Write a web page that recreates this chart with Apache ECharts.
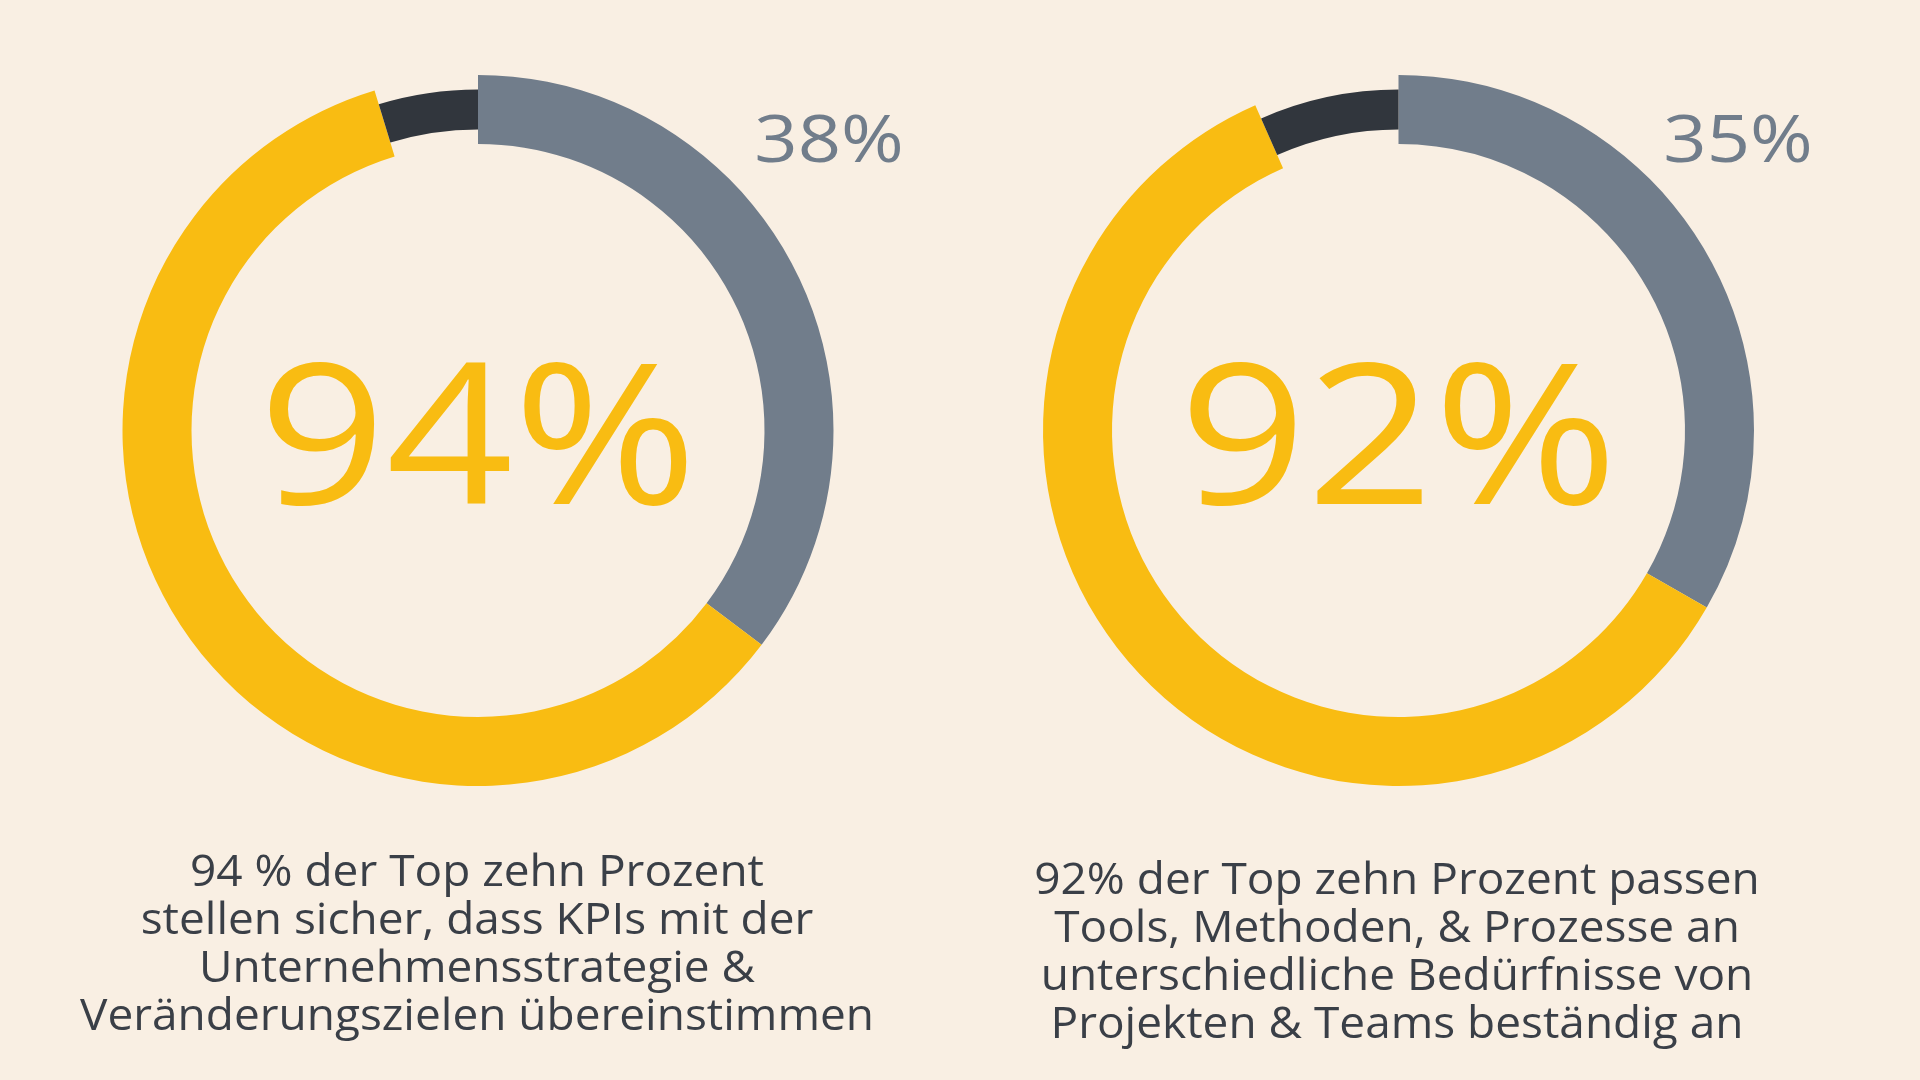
<!DOCTYPE html>
<html>
<head>
<meta charset="utf-8">
<script src="https://cdn.jsdelivr.net/npm/echarts@6/dist/echarts.min.js"></script>
<style>
  html, body { margin: 0; padding: 0; background: #f9efe3; }
  #chart { width: 1920px; height: 1080px; }
</style>
</head>
<body>
<div id="chart"></div>
<script>
// Anteile der Ringe (grau, gelb, dunkel)
var segmentNames = ["grau", "gelb", "dunkel"];
var leftValues = [35.3, 60.0, 4.7];
var rightValues = [33.3, 60.1, 6.6];
// Beschriftungen
var bigLabels = ["94%", "92%"];
var smallLabels = ["38%", "35%"];
var leftCaption = [
  "94 % der Top zehn Prozent",
  "stellen sicher, dass KPIs mit der",
  "Unternehmensstrategie &",
  "Veränderungszielen übereinstimmen"
];
var rightCaption = [
  "92% der Top zehn Prozent passen",
  "Tools, Methoden, & Prozesse an",
  "unterschiedliche Bedürfnisse von",
  "Projekten & Teams beständig an"
];

var colors = ["#717d8b", "#f9bc12", "#31363d"];
var FONT = "'Open Sans', sans-serif";

var chartDom = document.getElementById("chart");
var myChart = echarts.init(chartDom);

// äußerer Ring: grau + gelb, dunkler Teil transparent
function outerRing(values, cx) {
  return {
    type: "pie",
    center: [cx, 430.5],
    radius: [286.5, 355.5],
    startAngle: 90,
    clockwise: true,
    silent: true,
    label: { show: false },
    labelLine: { show: false },
    emphasis: { disabled: true },
    data: values.map(function (v, i) {
      return {
        name: segmentNames[i],
        value: v,
        itemStyle: { color: i === 2 ? "transparent" : colors[i] }
      };
    })
  };
}

// schmaler Ring: nur der dunkle Teil
function innerRing(values, cx) {
  return {
    type: "pie",
    center: [cx, 430.5],
    radius: [301, 341],
    startAngle: 90,
    clockwise: true,
    silent: true,
    label: { show: false },
    labelLine: { show: false },
    emphasis: { disabled: true },
    data: values.map(function (v, i) {
      return {
        name: segmentNames[i],
        value: v,
        itemStyle: { color: i === 2 ? colors[2] : "transparent" }
      };
    })
  };
}

function caption(lines, cx, top) {
  return {
    type: "text",
    x: cx,
    y: top,
    scaleX: 1.045,
    style: {
      text: lines.join("\n"),
      font: "400 44px " + FONT,
      fill: "#3a3f47",
      align: "center",
      verticalAlign: "top",
      lineHeight: 48
    }
  };
}

// Schrift etwas breiter ziehen, damit sie der runden Originalschrift ähnelt
function bigNumber(text, cx) {
  return {
    type: "text", x: cx, y: 448, scaleX: 1.13,
    style: { text: text, font: "400 197px " + FONT, fill: colors[1], align: "center", verticalAlign: "middle" }
  };
}

function smallNumber(text, cx) {
  return {
    type: "text", x: cx, y: 143, scaleX: 1.15,
    style: { text: text, font: "400 66px " + FONT, fill: colors[0], align: "center", verticalAlign: "middle" }
  };
}

var option = {
  backgroundColor: "#f9efe3",
  animation: false,
  series: [
    outerRing(leftValues, 478),
    innerRing(leftValues, 478),
    outerRing(rightValues, 1398.5),
    innerRing(rightValues, 1398.5)
  ],
  graphic: [
    bigNumber(bigLabels[0], 478),
    bigNumber(bigLabels[1], 1398.5),
    smallNumber(smallLabels[0], 829),
    smallNumber(smallLabels[1], 1738),
    caption(leftCaption, 477, 849),
    caption(rightCaption, 1397, 857)
  ]
};

option && myChart.setOption(option);
</script>
</body>
</html>
